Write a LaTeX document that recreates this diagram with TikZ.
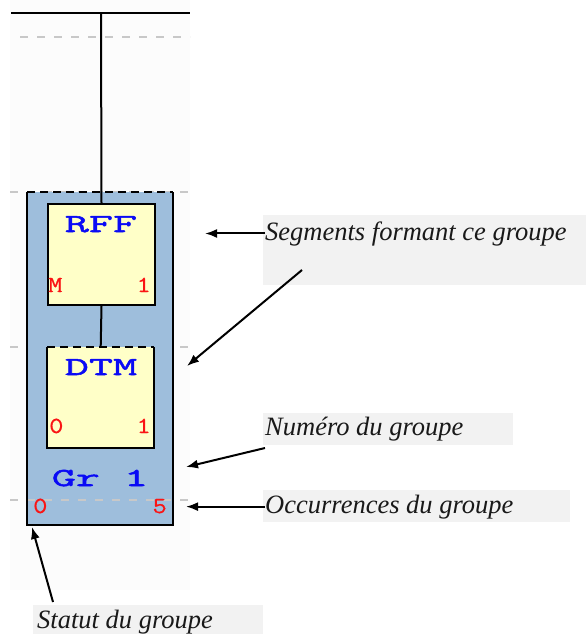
\documentclass[tikz,border=0pt]{standalone}
\usepackage{fontspec}
\setmainfont{Liberation Serif}
\newfontfamily\blfont[FakeBold=2,FakeStretch=1.8]{Latin Modern Mono}
\newfontfamily\rdfont[FakeBold=0.6,FakeStretch=1.2]{Latin Modern Mono}
\usetikzlibrary{arrows.meta}
\definecolor{grpblue}{RGB}{158,190,220}
\definecolor{segyel}{RGB}{255,255,200}
\definecolor{txtblue}{RGB}{10,10,245}
\definecolor{txtred}{RGB}{250,20,20}
\definecolor{lblbg}{RGB}{242,242,242}
\definecolor{guide}{RGB}{200,200,200}
\definecolor{scr}{RGB}{252,252,252}
\begin{document}
\begin{tikzpicture}[x=1pt,y=-1pt,
 guideline/.style={guide,line width=2pt,dash pattern=on 8pt off 9pt},
 edge/.style={black,line width=2pt},
 dashedge/.style={black,line width=2pt,dash pattern=on 8pt off 5pt},
 segbox/.style={fill=segyel,inner sep=0pt,minimum width=107pt,minimum height=101pt,anchor=north west},
 segname/.style={inner sep=0pt,text=txtblue,font=\fontsize{26}{30}\selectfont\blfont},
 cnt/.style={inner sep=0pt,text=txtred,font=\fontsize{23}{26}\selectfont\rdfont},
 lbl/.style={inner sep=0pt,text={rgb,255:red,25;green,25;blue,25},font=\fontsize{26.5}{30}\selectfont\itshape},
 arr/.style={line width=2pt,-{Latex[length=12pt,width=9pt]}},
]
\useasboundingbox (0,0) rectangle (586,634);
\fill[scr] (10,0) rectangle (190,590);
% guide lines below the group
\draw[guideline] (20,37) -- (190,37);
\draw[guideline] (10,192) -- (190,192);
\draw[guideline] (10,347) -- (190,347);
% group box
\node[fill=grpblue,inner sep=0pt,minimum width=146pt,minimum height=333pt,anchor=north west] (grp) at (27,192) {};
\draw[guideline] (10,500) -- (190,500);
\draw[edge] (grp.north west) -- (grp.south west) -- (grp.south east) -- (grp.north east);
\draw[dashedge] (grp.north west) -- (grp.north east);
% top bus
\coordinate (busl) at (11,13);
\coordinate (busr) at (190,13);
\coordinate (bustap) at (101,13);
\draw[edge] (busl) -- (busr);
% segments
\node[segbox,draw=black,line width=2pt] (rff) at (47,203) {};
\node[segbox] (dtm) at (47,347) {};
\draw[edge] (dtm.north west) -- (dtm.south west) -- (dtm.south east) -- (dtm.north east);
\draw[dashedge] (dtm.north west) -- (dtm.north east);
\draw[edge] (bustap) -- (rff.north);
\draw[edge] (rff.south) -- (dtm.north);
% texts in boxes
\node[segname,anchor=base] (rfft) at (101,232) {RFF};
\node[cnt,anchor=base west] (rffmin) at (48,292) {M};
\node[cnt,anchor=base east] (rffmax) at (151,292) {1};
\node[segname,anchor=base] (dtmt) at (101,375) {DTM};
\node[cnt,anchor=base west] (dtmmin) at (49,433) {0};
\node[cnt,anchor=base east] (dtmmax) at (151,433) {1};
\node[segname,anchor=base] (grpt) at (100,486) {Gr 1};
\node[cnt,anchor=base west] (grpmin) at (33,513) {0};
\node[cnt,anchor=base east] (grpmax) at (167,513) {5};
% annotations
\fill[lblbg] (263,215) rectangle (586,285);
\node[lbl,anchor=base west] (seg) at (265,240) {Segments formant ce groupe};
\coordinate (segtip) at (205,232);
\draw[arr] (seg.west) -- (segtip |- seg.west);
\coordinate (segfrom) at (302,270);
\coordinate (segtip2) at (187,366);
\draw[arr] (segfrom) -- (segtip2);
\fill[lblbg] (263,413) rectangle (513,445);
\node[lbl,anchor=base west] (num) at (265,435) {Numéro du groupe};
\coordinate (numfrom) at (265,448);
\coordinate (numtip) at (186,467);
\draw[arr] (numfrom) -- (numtip);
\fill[lblbg] (263,490) rectangle (570,522);
\node[lbl,anchor=base west] (occ) at (265,513) {Occurrences du groupe};
\coordinate (occtip) at (186,507);
\draw[arr] (occ.west) -- (occtip |- occ.west);
\fill[lblbg] (33,605) rectangle (263,634);
\node[lbl,anchor=base west] (stat) at (37,628) {Statut du groupe};
\coordinate (statfrom) at (53,602);
\coordinate (stattip) at (32,527);
\draw[arr] (statfrom) -- (stattip);
\end{tikzpicture}
\end{document}
